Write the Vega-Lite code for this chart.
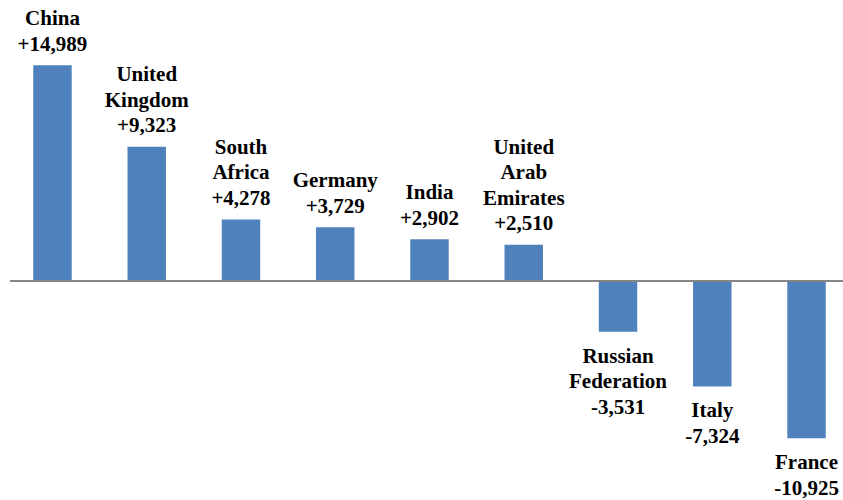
{
  "$schema": "https://vega.github.io/schema/vega-lite/v6.json",
  "width": 833,
  "height": 500,
  "autosize": {"type": "none"},
  "padding": {"left": 10, "right": 0, "top": 0, "bottom": 0},
  "background": "white",
  "config": {"view": {"stroke": null}, "text": {"font": "Liberation Serif", "fontWeight": "bold", "fontSize": 21, "lineHeight": 25.5, "color": "black", "align": "center", "baseline": "alphabetic"}},
  "data": {"values": [
    {"country": "China", "value": 14989, "label": ["China", "+14,989"]},
    {"country": "United Kingdom", "value": 9323, "label": ["United", "Kingdom", "+9,323"]},
    {"country": "South Africa", "value": 4278, "label": ["South", "Africa", "+4,278"]},
    {"country": "Germany", "value": 3729, "label": ["Germany", "+3,729"]},
    {"country": "India", "value": 2902, "label": ["India", "+2,902"]},
    {"country": "United Arab Emirates", "value": 2510, "label": ["United", "Arab", "Emirates", "+2,510"]},
    {"country": "Russian Federation", "value": -3531, "label": ["Russian", "Federation", "-3,531"]},
    {"country": "Italy", "value": -7324, "label": ["Italy", "-7,324"]},
    {"country": "France", "value": -10925, "label": ["France", "-10,925"]}
  ]},
  "encoding": {
    "x": {"field": "country", "type": "nominal", "sort": null, "axis": null,
      "scale": {"range": [0, 839], "paddingInner": 0.592, "paddingOuter": 0.2466}},
    "y": {"field": "value", "type": "quantitative", "axis": null,
      "scale": {"domain": [-15208, 19514], "nice": false, "zero": false}}
  },
  "layer": [
    {"mark": {"type": "bar", "color": "#4F81BD"}},
    {"mark": {"type": "rule", "color": "#868686", "strokeWidth": 1.5},
     "encoding": {"x": null, "y": {"datum": 0, "type": "quantitative"}}},
    {"transform": [{"filter": "datum.value > 0 && length(datum.label) == 2"}],
     "mark": {"type": "text", "dy": -40},
     "encoding": {"text": {"field": "label"}}},
    {"transform": [{"filter": "datum.value > 0 && length(datum.label) == 3"}],
     "mark": {"type": "text", "dy": -65.5},
     "encoding": {"text": {"field": "label"}}},
    {"transform": [{"filter": "datum.value > 0 && length(datum.label) == 4"}],
     "mark": {"type": "text", "dy": -91},
     "encoding": {"text": {"field": "label"}}},
    {"transform": [{"filter": "datum.value < 0"}],
     "mark": {"type": "text", "dy": 31},
     "encoding": {"text": {"field": "label"}}}
  ]
}
